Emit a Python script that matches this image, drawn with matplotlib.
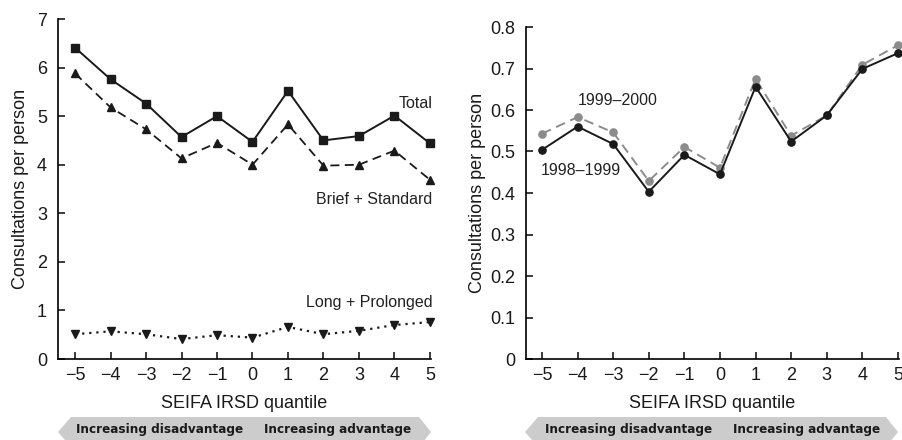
import matplotlib
matplotlib.use("Agg")
import matplotlib.pyplot as plt
from matplotlib import font_manager
from matplotlib.patches import Polygon

plt.rcParams["font.family"] = ["Liberation Sans", "DejaVu Sans"]

# SEIFA IRSD quantile
quantiles = [-5, -4, -3, -2, -1, 0, 1, 2, 3, 4, 5]
tick_labels = ["\u22125", "\u22124", "\u22123", "\u22122", "\u22121", "0", "1", "2", "3", "4", "5"]

# left panel: consultations per person by type
total = [6.41, 5.76, 5.26, 4.57, 5.00, 4.47, 5.52, 4.50, 4.59, 5.01, 4.44]
brief_standard = [5.88, 5.18, 4.73, 4.13, 4.45, 4.00, 4.83, 3.98, 4.00, 4.29, 3.69]
long_prolonged = [0.51, 0.57, 0.51, 0.41, 0.49, 0.44, 0.66, 0.51, 0.58, 0.70, 0.76]

# right panel: long + prolonged by year
y1998 = [0.504, 0.560, 0.518, 0.403, 0.492, 0.445, 0.656, 0.524, 0.587, 0.699, 0.737]
y1999 = [0.543, 0.583, 0.546, 0.429, 0.511, 0.461, 0.675, 0.538, 0.587, 0.709, 0.756]

W, H = 902, 440
FS = 13      # ticks and axis titles
AFS = 11.5   # in-plot labels
fig = plt.figure(figsize=(W / 100, H / 100), dpi=100)

ax1 = fig.add_axes([58 / W, 81 / H, 373 / W, 340 / H])
ax2 = fig.add_axes([526 / W, 81 / H, 373 / W, 332 / H])

ax1.plot(quantiles, total, color="#1a1a1a", lw=1.4, marker="s", ms=5.5, clip_on=False)
ax1.plot(quantiles, brief_standard, color="#1a1a1a", lw=1.3, ls=(0, (5, 3)),
         marker="^", ms=6, clip_on=False)
ax1.plot(quantiles, long_prolonged, color="#1a1a1a", lw=1.6, ls=(0, (1, 2.2)),
         marker="v", ms=6, clip_on=False)
ax1.set_ylim(0, 7)
ax1.set_xlim(-5.48, 5.03)
ax1.set_yticks(range(0, 8))

ax1.text(5.07, 5.27, "Total", ha="right", va="center", fontsize=AFS, color="#222222")
ax1.text(5.07, 3.29, "Brief + Standard", ha="right", va="center", fontsize=AFS, color="#222222")
ax1.text(5.07, 1.17, "Long + Prolonged", ha="right", va="center", fontsize=AFS, color="#222222")

ax2.plot(quantiles, y1999, color="#8c8c8c", lw=1.4, ls=(0, (5, 3)), marker="o", ms=5.2,
         clip_on=False)
ax2.plot(quantiles, y1998, color="#1a1a1a", lw=1.4, marker="o", ms=5.2, clip_on=False)
ax2.set_ylim(0, 0.8)
ax2.set_xlim(-5.45, 5.03)
ax2.set_yticks([0, 0.1, 0.2, 0.3, 0.4, 0.5, 0.6, 0.7, 0.8])
ax2.set_yticklabels(["0", "0.1", "0.2", "0.3", "0.4", "0.5", "0.6", "0.7", "0.8"])

ax2.text(-3.99, 0.624, "1999\u20132000", ha="left", va="center", fontsize=AFS, color="#222222")
ax2.text(-5.03, 0.455, "1998\u20131999", ha="left", va="center", fontsize=AFS, color="#222222")

for ax in (ax1, ax2):
    ax.spines["top"].set_visible(False)
    ax.spines["right"].set_visible(False)
    ax.spines["left"].set_linewidth(1.2)
    ax.spines["bottom"].set_linewidth(1.2)
    ax.set_xticks(quantiles)
    ax.set_xticklabels(tick_labels)
    ax.tick_params(direction="in", length=5, width=1.2, labelsize=FS, colors="#1a1a1a")
    ax.tick_params(axis="y", pad=8)
    ax.tick_params(axis="x", pad=6)
    ax.set_xlabel("SEIFA IRSD quantile", fontsize=FS, labelpad=8, color="#1a1a1a")
    ax.set_ylabel("Consultations per person", fontsize=FS, color="#1a1a1a")

ax1.yaxis.set_label_coords(-29 / 373, 0.5)
ax2.yaxis.set_label_coords(-40 / 373, 0.5)

# a bold condensed face for the arrow captions, if one is installed
narrow = None
for f in font_manager.fontManager.ttflist:
    weight = f.weight if isinstance(f.weight, int) else 400
    if ("Narrow" in f.name or "Condensed" in f.name or "condensed" in str(f.stretch)) \
            and weight >= 600 and f.style == "normal":
        narrow = font_manager.FontProperties(fname=f.fname)
        break
if narrow is None:
    narrow = font_manager.FontProperties(family="Liberation Sans", weight="bold")


# grey double-headed arrows under each x axis
def band(x0, x1, texts):
    top, bot, mid = 417, 447, 432
    pts = [(x0, mid), (x0 + 13, top), (x1 - 12, top), (x1, mid), (x1 - 12, bot), (x0 + 13, bot)]
    pts = [(x / W, 1 - y / H) for x, y in pts]
    fig.patches.append(Polygon(pts, closed=True, transform=fig.transFigure,
                               facecolor="#cccccc", edgecolor="none"))
    out = []
    for tx, label, ha in texts:
        out.append(fig.text(tx / W, 1 - 429 / H, label, ha=ha, va="center", fontsize=10,
                            fontproperties=narrow, color="#1a1a1a"))
    return out


captions = band(58, 431, [(76, "Increasing disadvantage", "left"), (411, "Increasing advantage", "right")])
captions += band(525, 898, [(545, "Increasing disadvantage", "left"), (880, "Increasing advantage", "right")])

# size the captions so the pair fills the band leaving a gap of about 24 px
fig.canvas.draw()
r = fig.canvas.get_renderer()
pair = captions[0].get_window_extent(r).width + captions[1].get_window_extent(r).width
for t in captions:
    t.set_fontsize(10 * (335 - 24) / pair)

fig.savefig("out.png", dpi=100)
